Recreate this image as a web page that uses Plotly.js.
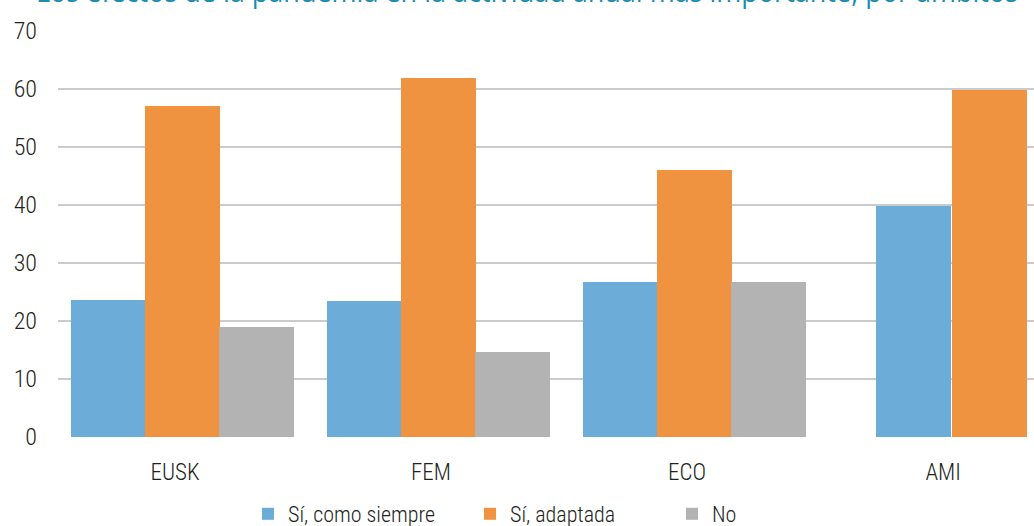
<!DOCTYPE html>
<html>
<head>
<meta charset="utf-8">
<script src="https://cdn.plot.ly/plotly-3.0.1.min.js"></script>
<style>
html,body{margin:0;padding:0;background:#fff;overflow:hidden;}
#chart{width:1034px;height:526px;}
</style>
</head>
<body>
<div id="chart"></div>
<script>
const titleText = "Los efectos de la pandemia en la actividad anual más importante, por ámbitos";
const categories = ["EUSK", "FEM", "ECO", "AMI"];
const seriesNames = ["Sí, como siempre", "Sí, adaptada", "No"];
const siComoSiempre = [23.7, 23.4, 26.8, 39.9];
const siAdaptada = [57.0, 61.9, 46.0, 59.9];
const no = [18.9, 14.6, 26.8, null];
const yTicks = [0, 10, 20, 30, 40, 50, 60, 70];

const colors = ["#6cacd9", "#f09340", "#b3b3b3"];
// per-category bar offsets (AMI has only two bars, re-centred)
const offsets = [
  [-0.406, -0.406, -0.406, -0.262],
  [-0.117, -0.117, -0.117, 0.035],
  [0.172, 0.172, 0.172, 0.172]
];
const legendIds = ["legend", "legend2", "legend3"];
const values = [siComoSiempre, siAdaptada, no];

const FONT = "'Roboto Condensed', 'Liberation Sans Narrow', 'DejaVu Sans Condensed', Arial, sans-serif";

const traces = values.map((v, i) => ({
  type: "bar",
  name: seriesNames[i],
  x: categories,
  y: v,
  marker: {color: colors[i], line: {width: 0}},
  offset: offsets[i],
  width: 0.293,
  legend: legendIds[i],
  hoverinfo: "x+y+name"
}));

function legendCfg(xpx) {
  return {
    xref: "container", yref: "container",
    x: xpx / 1034, xanchor: "left", y: (526 - 514) / 526, yanchor: "middle",
    orientation: "h", bgcolor: "rgba(0,0,0,0)",
    font: {family: FONT, size: 22, weight: 300, color: "#231f20"}
  };
}

const layout = {
  width: 1034, height: 526,
  margin: {l: 58, r: 0, t: 31, b: 89, pad: 0},
  paper_bgcolor: "#ffffff",
  plot_bgcolor: "#ffffff",
  showlegend: true,
  bargap: 0, bargroupgap: 0,
  xaxis: {
    type: "category",
    range: [-0.457, 3.355],
    showgrid: false, zeroline: false, showline: false,
    ticks: "", ticklabelstandoff: 19,
    tickfont: {family: FONT, size: 23, weight: 300, color: "#231f20"}
  },
  yaxis: {
    range: [0, 70],
    tickvals: yTicks,
    showgrid: true, gridcolor: "#cbcbcb", gridwidth: 2,
    zeroline: false, showline: false,
    ticks: "", ticklabelstandoff: 20,
    tickfont: {family: FONT, size: 24, weight: 300, color: "#231f20"}
  },
  legend: legendCfg(262 - 14),
  legend2: legendCfg(484 - 14),
  legend3: legendCfg(686 - 14),
  annotations: [{
    text: titleText,
    xref: "paper", yref: "paper",
    x: (527 - 58) / 976, y: 1.05,
    xanchor: "center", yanchor: "bottom",
    showarrow: false, borderpad: 0,
    font: {family: "'Open Sans', 'Noto Sans', sans-serif", size: 27, color: "#1b8db0"}
  }]
};

Plotly.newPlot("chart", traces, layout, {displayModeBar: false, staticPlot: true});
</script>
</body>
</html>
